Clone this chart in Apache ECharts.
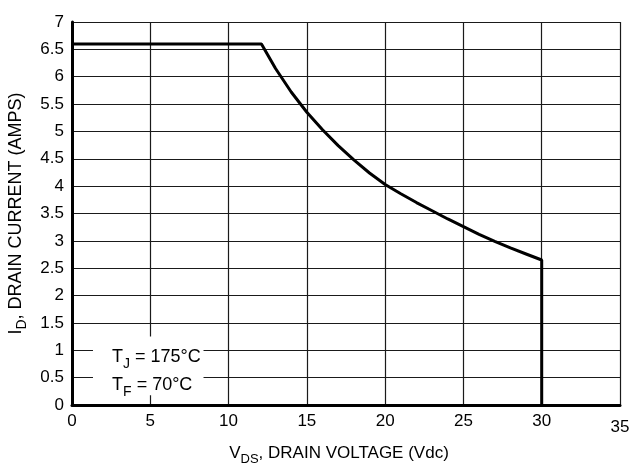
<!DOCTYPE html>
<html>
<head>
<meta charset="utf-8">
<script src="https://cdn.jsdelivr.net/npm/echarts@6/dist/echarts.min.js"></script>
<style>
html,body{margin:0;padding:0;background:#fff;}
#chart{width:631px;height:466px;}
</style>
</head>
<body>
<div id="chart"></div>
<script>
// Drain voltage (V) and drain current (A) of the safe operating boundary
const vds = [0, 12.1, 13, 14, 15, 16, 17, 18, 19, 20, 21, 22, 23, 24, 25, 26, 27, 28, 29, 30, 30];
const idc = [6.6, 6.6, 6.15, 5.72, 5.35, 5.03, 4.74, 4.48, 4.24, 4.03, 3.86, 3.70, 3.55, 3.40, 3.26, 3.12, 2.99, 2.87, 2.76, 2.65, 0];
const xTicks = [0, 5, 10, 15, 20, 25, 30, 35];
const yTicks = [0, 0.5, 1, 1.5, 2, 2.5, 3, 3.5, 4, 4.5, 5, 5.5, 6, 6.5, 7];
// Annotation box (data units) and its anchor (left edge of the text)
const noteBox = [[1.34, 0.18], [8.4, 1.25]];
const notePos = [2.56, 0.62];

const FONT = '"Liberation Sans", Arial, sans-serif';
const chart = echarts.init(document.getElementById('chart'), null, {renderer: 'canvas'});

const main = {fontSize: 18, fontFamily: FONT, color: '#000', verticalAlign: 'bottom', padding: [0, 0, 5, 0]};
const sub = {fontSize: 14, fontFamily: FONT, color: '#000', verticalAlign: 'bottom', padding: [0, 0, 0, 0]};

chart.setOption({
  animation: false,
  backgroundColor: '#fff',
  grid: {left: 72, right: 11, top: 22, bottom: 61, containLabel: false, outerBoundsMode: 'none'},
  xAxis: {
    type: 'value', min: xTicks[0], max: xTicks[xTicks.length - 1], interval: 5,
    axisLine: {show: true, onZero: false, lineStyle: {color: '#000', width: 3}},
    axisTick: {show: false},
    splitLine: {show: true, lineStyle: {color: '#1a1a1a', width: 1.2}},
    axisLabel: {
      fontSize: 17, fontFamily: FONT, color: '#000', margin: 8,
      formatter: v => v === 35 ? '{b|35}' : String(v),
      rich: {b: {fontSize: 17, fontFamily: FONT, color: '#000', padding: [6, 0, 0, 0]}}
    },
    name: '{m|V}{s|DS}{m|, DRAIN VOLTAGE (Vdc)}',
    nameLocation: 'middle', nameGap: 40,
    nameTextStyle: {
      padding: [0, 14, 0, 0],
      rich: {
        m: {fontSize: 17, fontFamily: FONT, color: '#000', verticalAlign: 'bottom', padding: [0, 0, 4, 0]},
        s: {fontSize: 13, fontFamily: FONT, color: '#000', verticalAlign: 'bottom'}
      }
    }
  },
  yAxis: {
    type: 'value', min: yTicks[0], max: yTicks[yTicks.length - 1], interval: 0.5,
    axisLine: {show: true, lineStyle: {color: '#000', width: 3}},
    axisTick: {show: false},
    splitLine: {show: true, lineStyle: {color: '#1a1a1a', width: 1.2}},
    axisLabel: {fontSize: 17, fontFamily: FONT, color: '#000', margin: 8},
    name: '{m|I}{s|D}{m|, DRAIN CURRENT (AMPS)}',
    nameLocation: 'middle', nameGap: 39, nameRotate: 90,
    nameTextStyle: {
      rich: {
        m: {fontSize: 18, fontFamily: FONT, color: '#000', verticalAlign: 'bottom', padding: [0, 0, 4, 0]},
        s: {fontSize: 14, fontFamily: FONT, color: '#000', verticalAlign: 'bottom'}
      }
    }
  },
  series: [{
    type: 'line',
    data: vds.map((v, i) => [v, idc[i]]),
    showSymbol: false,
    symbol: 'none',
    lineStyle: {color: '#000', width: 3},
    z: 5,
    markArea: {
      silent: true,
      itemStyle: {color: '#fff', opacity: 1},
      data: [[{coord: noteBox[0]}, {coord: noteBox[1]}]]
    },
    markPoint: {
      silent: true,
      symbol: 'rect', symbolSize: 1,
      itemStyle: {color: 'rgba(0,0,0,0)'},
      label: {
        show: true, position: 'inside', align: 'left',
        lineHeight: 28,
        formatter: '{m|T}{s|J}{m| = 175°C}\n{m|T}{s|F}{m| = 70°C}',
        rich: {m: main, s: sub}
      },
      data: [{coord: notePos}]
    }
  }]
});
</script>
</body>
</html>
